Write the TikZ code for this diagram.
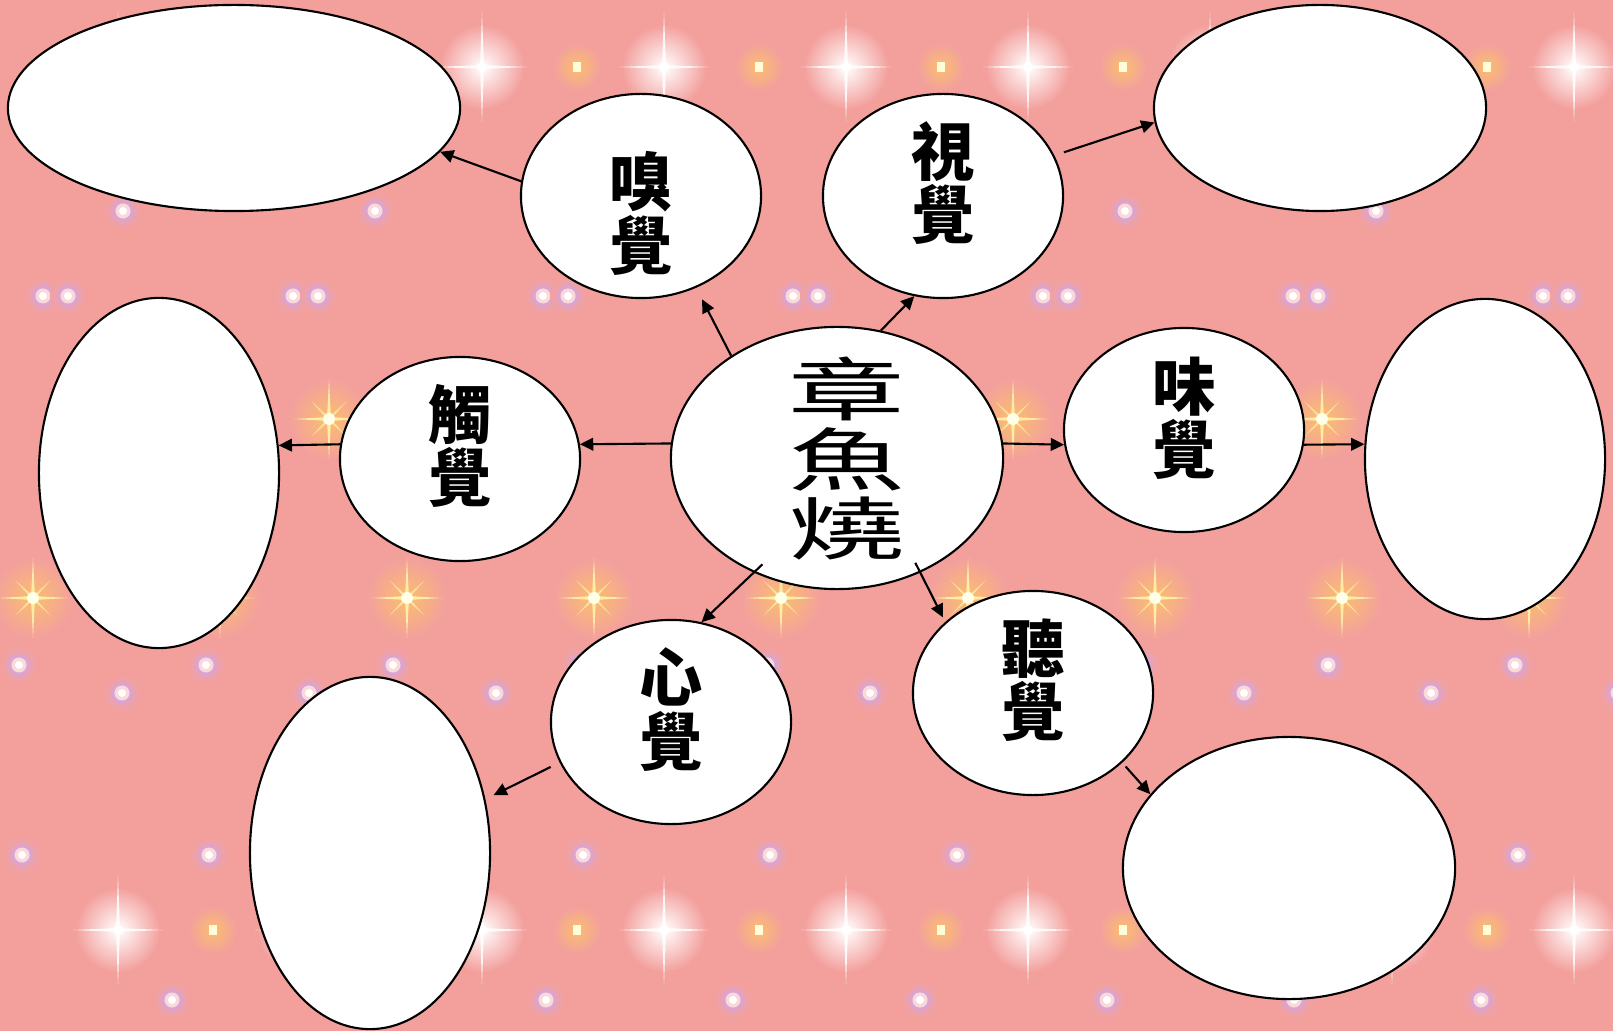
\documentclass[tikz,border=0pt]{standalone}
\usepackage{fontspec}
\newfontfamily\cjk{Noto Sans CJK TC}
\newfontfamily\cjkwide[FakeStretch=1.7]{Noto Sans CJK TC}
\usetikzlibrary{arrows.meta, shapes.geometric}

\definecolor{bgpink}{RGB}{243,160,157}
\definecolor{glowlilac}{RGB}{215,165,215}
\definecolor{glowgold}{RGB}{250,190,110}

% upright column of characters (one \hbox each), centred and lifted by #1
\newcommand\vtext[2]{\raisebox{#1}[0pt][0pt]{\raisebox{-0.5\height}{%
  \vbox{\lineskiplimit=-100pt #2}}}}

\tikzset{
  bubble/.style={ellipse, draw=black, line width=0.6pt, fill=white, inner sep=0pt},
  sense/.style={bubble, minimum width=2.4cm, minimum height=2.04cm,
    font=\cjk\bfseries\fontsize{18pt}{18pt}\selectfont},
  topic/.style={bubble, minimum width=3.32cm, minimum height=2.62cm,
    font=\cjkwide\fontsize{19.5pt}{19.7pt}\selectfont},
  answer/.style={bubble},
  link/.style={-{Triangle[length=3.8pt,width=3.6pt]}, line width=0.6pt},
  sparkle/.pic={
    \shade[inner color=white, outer color=bgpink] (0,0) circle (0.42cm);
    \fill[white, opacity=.85] (-0.45cm,0) -- (0,0.02cm) -- (0.45cm,0) -- (0,-0.02cm) -- cycle;
    \fill[white, opacity=.85] (0,-0.55cm) -- (0.02cm,0) -- (0,0.55cm) -- (-0.02cm,0) -- cycle;
    \fill[white] (0,0) circle (0.05cm);
  },
  goldstar/.pic={
    \shade[inner color=glowgold, outer color=bgpink] (0,0) circle (0.4cm);
    \fill[yellow!30, opacity=.8] (-0.35cm,0) -- (0,0.02cm) -- (0.35cm,0) -- (0,-0.02cm) -- cycle;
    \fill[yellow!30, opacity=.8] (0,-0.4cm) -- (0.02cm,0) -- (0,0.4cm) -- (-0.02cm,0) -- cycle;
    \fill[yellow!30, opacity=.6, rotate=45] (-0.25cm,0) -- (0,0.015cm) -- (0.25cm,0) -- (0,-0.015cm) -- cycle;
    \fill[yellow!30, opacity=.6, rotate=-45] (-0.25cm,0) -- (0,0.015cm) -- (0.25cm,0) -- (0,-0.015cm) -- cycle;
    \fill[yellow!10] (0,0) circle (0.06cm);
  },
  gleam/.pic={
    \shade[inner color=glowgold, outer color=bgpink] (0,0) circle (0.24cm);
    \fill[yellow!15] (-0.04cm,-0.05cm) rectangle (0.04cm,0.05cm);
  },
  bokeh/.pic={
    \shade[inner color=glowlilac, outer color=bgpink] (0,0) circle (0.18cm);
    \fill[glowlilac] (0,0) circle (0.1cm);
    \fill[bgpink!40!white] (0,0) circle (0.075cm);
    \fill[white] (0,0) circle (0.04cm);
  },
}

\begin{document}
\begin{tikzpicture}[x=0.01cm, y=-0.01cm]
  \useasboundingbox (0,0) rectangle (1613,1031);
  \fill[bgpink] (0,0) rectangle (1613,1031);

  % background glitter
  \begin{scope}
    \clip (0,0) rectangle (1613,1031);
    \foreach \x in {43,293,543,793,1043,1293,1543}
      {\pic at (\x,296) {bokeh}; \pic at (\x+25,296) {bokeh};}
    \foreach \x in {123,375,625,875,1125,1376}
      \pic at (\x,211) {bokeh};
    \foreach \x in {19,206,...,1600} {
      \pic at (\x,665) {bokeh};
      \pic at (\x+3,855) {bokeh};
      \pic at (\x+153,1000) {bokeh};
      \pic at (\x+103,693) {bokeh};
    }
    \foreach \x in {118,300,...,1574} {
      \pic at (\x,67) {sparkle};
      \pic at (\x,930) {sparkle};
      \pic at (\x+95,67) {gleam};
      \pic at (\x+95,930) {gleam};
    }
    \foreach \x in {33,220,407,594,781,968,1155,1342,1529}
      \pic at (\x,598) {goldstar};
    \foreach \x in {329,1013,1322}
      \pic at (\x,419) {goldstar};
  \end{scope}

  % topic and senses
  \node[topic]  (ctr)     at (837,458)  {\hspace{0.2cm}\vtext{0.02cm}{\hbox{章}\hbox{魚}\hbox{燒}}};
  \node[sense]  (s_smell) at (641,196)  {\vtext{-0.145cm}{\hbox{嗅}\hbox{覺}}};
  \node[sense]  (s_sight) at (943,196)  {\vtext{0.16cm}{\hbox{視}\hbox{覺}}};
  \node[sense]  (s_touch) at (460,459)  {\vtext{0.16cm}{\hbox{觸}\hbox{覺}}};
  \node[sense]  (s_taste) at (1184,430) {\vtext{0.15cm}{\hbox{味}\hbox{覺}}};
  \node[sense]  (s_hear)  at (1033,693) {\vtext{0.16cm}{\hbox{聽}\hbox{覺}}};
  \node[sense]  (s_heart) at (671,722)  {\vtext{0.155cm}{\hbox{心}\hbox{覺}}};

  % empty answer bubbles
  \node[answer, minimum width=4.52cm, minimum height=2.06cm] (a_smell) at (234,108)  {};
  \node[answer, minimum width=3.32cm, minimum height=2.06cm] (a_sight) at (1320,108) {};
  \node[answer, minimum width=2.40cm, minimum height=3.50cm] (a_touch) at (159,473)  {};
  \node[answer, minimum width=2.40cm, minimum height=3.20cm] (a_taste) at (1485,459) {};
  \node[answer, minimum width=2.40cm, minimum height=3.52cm] (a_heart) at (370,853)  {};
  \node[answer, minimum width=3.32cm, minimum height=2.62cm] (a_hear)  at (1289,868) {};

  \path[link]
    (ctr.136)     edge [shorten >=0.13cm] (s_smell.-59)
    (ctr.71)      edge (s_sight.-106)
    (ctr.175)     edge (s_touch.7)
    (ctr.5)       edge (s_taste.187)
    (ctr.234)     edge [shorten <=-0.12cm] (s_heart.73)
    (ctr.-54)     edge [shorten <=-0.11cm, shorten >=0.05cm] (s_hear.141)
    (s_smell.173) edge (a_smell.-12)
    (s_sight.20)  edge [shorten <=0.1cm] (a_sight.185)
    (s_touch.173) edge (a_touch.13)
    (s_taste.-7)  edge (a_taste.173)
    (s_hear.-38)  edge [shorten <=0.05cm] (a_hear.152)
    (s_heart.200) edge [shorten <=0.1cm, shorten >=0.09cm] (a_heart.25);
\end{tikzpicture}
\end{document}
